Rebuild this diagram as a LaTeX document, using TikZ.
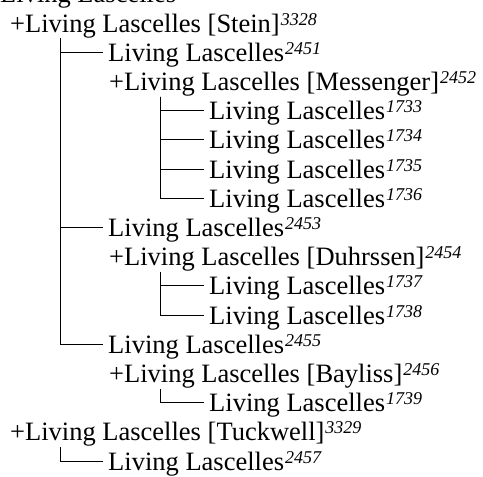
\documentclass[tikz,border=0pt]{standalone}
\usepackage{fontspec}
\setmainfont{Liberation Serif}
\usepackage{tikz}

\newcommand{\refno}[1]{\kern1pt\raisebox{7pt}{\fontsize{18}{18}\selectfont\itshape #1}}

\begin{document}
\begin{tikzpicture}[
      x=1pt, y=-1pt,
      person/.style={anchor=base west, inner sep=0pt, text height=22pt, text depth=4pt, font=\fontsize{26.5}{29}\selectfont},
      link/.style={line width=1pt, shorten >=5pt}
    ]
      \useasboundingbox (0,0) rectangle (483,477);
      % family tree rows
      \node[person] (root) at (0,2.8) {Living Lascelles};
      \node[person] (stein) at (10,32) {+Living Lascelles [Stein]\refno{3328}};
      \node[person] (p2451) at (108,61.2) {Living Lascelles\refno{2451}};
      \node[person] (messenger) at (109,90.4) {+Living Lascelles [Messenger]\refno{2452}};
      \node[person] (p1733) at (209,119.6) {Living Lascelles\refno{1733}};
      \node[person] (p1734) at (209,148.8) {Living Lascelles\refno{1734}};
      \node[person] (p1735) at (209,178) {Living Lascelles\refno{1735}};
      \node[person] (p1736) at (209,207.2) {Living Lascelles\refno{1736}};
      \node[person] (p2453) at (108,236.4) {Living Lascelles\refno{2453}};
      \node[person] (duhrssen) at (109,265.6) {+Living Lascelles [Duhrssen]\refno{2454}};
      \node[person] (p1737) at (209,294.8) {Living Lascelles\refno{1737}};
      \node[person] (p1738) at (209,324) {Living Lascelles\refno{1738}};
      \node[person] (p2455) at (108,353.2) {Living Lascelles\refno{2455}};
      \node[person] (bayliss) at (109,382.4) {+Living Lascelles [Bayliss]\refno{2456}};
      \node[person] (p1739) at (209,411.6) {Living Lascelles\refno{1739}};
      \node[person] (tuckwell) at (10,440.8) {+Living Lascelles [Tuckwell]\refno{3329}};
      \node[person] (p2457) at (108,470) {Living Lascelles\refno{2457}};
      % branch points under each parent
      \coordinate (steinb) at ([xshift=50pt, yshift=-2pt]stein.south west);
      \coordinate (messengerb) at ([xshift=51pt, yshift=-2pt]messenger.south west);
      \coordinate (duhrssenb) at ([xshift=51pt, yshift=-2pt]duhrssen.south west);
      \coordinate (baylissb) at ([xshift=51pt, yshift=-2pt]bayliss.south west);
      \coordinate (tuckwellb) at ([xshift=50pt, yshift=-2pt]tuckwell.south west);
      \draw[link] (steinb) |- (p2451.west);
      \draw[link] (steinb) |- (p2453.west);
      \draw[link] (steinb) |- (p2455.west);
      \draw[link] (messengerb) |- (p1733.west);
      \draw[link] (messengerb) |- (p1734.west);
      \draw[link] (messengerb) |- (p1735.west);
      \draw[link] (messengerb) |- (p1736.west);
      \draw[link] (duhrssenb) |- (p1737.west);
      \draw[link] (duhrssenb) |- (p1738.west);
      \draw[link] (baylissb) |- (p1739.west);
      \draw[link] (tuckwellb) |- (p2457.west);
    \end{tikzpicture}
\end{document}
